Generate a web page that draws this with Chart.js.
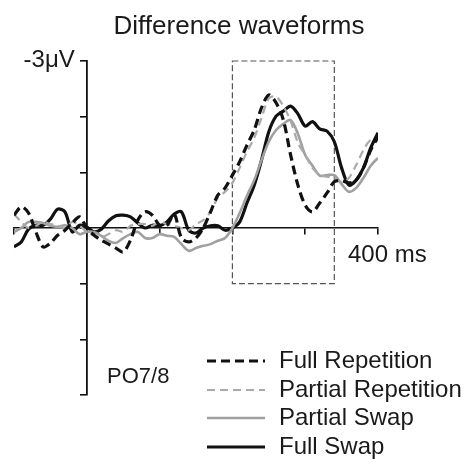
<!DOCTYPE html>
<html>
<head>
<meta charset="utf-8">
<script src="https://cdn.jsdelivr.net/npm/chart.js@4.4.0/dist/chart.umd.min.js"></script>
<style>
  html, body { margin: 0; padding: 0; background: #fff; }
</style>
</head>
<body>
<canvas id="erp" width="470" height="459"></canvas>
<script>
'use strict';
// time points in ms, values in microvolts (negative plotted upwards)
const times = [
  -100, -90, -80, -70, -60, -50, -40, -30, -20, -10,
  0, 10, 20, 30, 40, 50, 60, 70, 80, 90,
  100, 110, 120, 130, 140, 150, 160, 170, 180, 190,
  200, 210, 220, 230, 240, 250, 260, 270, 280, 290,
  300, 310, 320, 330, 340, 350, 360, 370, 380, 390, 400,
];
const fullRepetition = [
  -0.23, -0.38, -0.27, 0.07, 0.34, 0.27, 0.13, 0.04, -0.09, -0.20,
  0.00, 0.13, 0.22, 0.29, 0.36, 0.43, 0.22, -0.14, -0.29, -0.23,
  -0.05, -0.05, -0.25, 0.18, 0.25, 0.18, 0.00, -0.29, -0.59, -0.72,
  -0.95, -1.19, -1.49, -1.76, -2.16, -2.39, -2.25, -1.94, -1.31, -0.77,
  -0.41, -0.29, -0.45, -0.63, -0.83, -0.85, -0.81, -0.86, -1.08, -1.40, -1.64,
];
const partialRepetition = [
  -0.25, -0.11, 0.00, -0.04, -0.11, -0.07, -0.04, 0.00, -0.11, -0.04,
  0.07, 0.14, 0.16, 0.11, 0.04, 0.07, -0.04, -0.07, -0.07, -0.04,
  -0.11, -0.07, -0.04, 0.00, 0.04, -0.07, -0.14, -0.29, -0.54, -0.65,
  -0.81, -1.08, -1.37, -1.62, -1.98, -2.33, -2.36, -2.19, -1.92, -1.53,
  -1.31, -1.08, -0.95, -0.92, -0.90, -0.83, -0.90, -1.13, -1.40, -1.58, -1.56,
];
const partialSwap = [
  0.07, 0.00, -0.11, -0.11, -0.09, -0.04, -0.02, -0.05, 0.00, 0.11,
  0.07, 0.07, 0.14, 0.23, 0.27, 0.18, 0.11, 0.07, 0.18, 0.18,
  0.11, 0.14, 0.16, 0.29, 0.41, 0.36, 0.32, 0.29, 0.23, 0.18,
  0.00, -0.27, -0.58, -0.86, -1.22, -1.55, -1.76, -1.87, -1.94, -1.69,
  -1.31, -1.12, -0.94, -0.95, -0.95, -0.79, -0.65, -0.72, -0.90, -1.12, -1.26,
];
const fullSwap = [
  0.34, 0.25, 0.02, -0.05, -0.05, -0.16, -0.34, -0.29, 0.07, -0.05,
  -0.02, 0.07, 0.02, -0.13, -0.22, -0.23, -0.20, -0.09, 0.00, -0.05,
  -0.04, -0.11, -0.25, -0.29, 0.04, 0.09, 0.00, -0.04, -0.04, 0.04,
  0.00, -0.11, -0.45, -0.77, -1.22, -1.73, -2.01, -2.10, -2.19, -2.05,
  -1.83, -1.91, -1.78, -1.74, -1.55, -1.08, -0.77, -0.86, -1.08, -1.44, -1.71,
];
const seriesLabels = ['Full Repetition', 'Partial Repetition', 'Partial Swap', 'Full Swap'];
// analysis window (ms) and its voltage span
const windowTimes = [200, 340];
const windowVolts = [-3, 1];

const FONT = '"Liberation Sans", Arial, Helvetica, sans-serif';
const toPoints = (vals) => times.map((t, i) => ({x: t, y: vals[i]}));

// dashed analysis window, drawn under the waveforms
const windowBox = {
  id: 'windowBox',
  beforeDatasetsDraw(chart) {
    const {ctx, scales: {x, y}} = chart;
    const x1 = x.getPixelForValue(windowTimes[0]);
    const x2 = x.getPixelForValue(windowTimes[1]);
    const y1 = y.getPixelForValue(windowVolts[0]);
    const y2 = y.getPixelForValue(windowVolts[1]);
    ctx.save();
    ctx.strokeStyle = '#555';
    ctx.lineWidth = 1.2;
    ctx.setLineDash([6, 3]);
    ctx.strokeRect(x1, y1, x2 - x1, y2 - y1);
    ctx.restore();
  },
};

// title, axis labels and the legend at the bottom right
const labels = {
  id: 'labels',
  afterDraw(chart) {
    const {ctx, scales: {x, y}} = chart;
    ctx.save();
    ctx.fillStyle = '#1a1a1a';
    ctx.font = `26px ${FONT}`;
    ctx.textAlign = 'center';
    ctx.fillText('Difference waveforms', 239, 34);

    ctx.font = `24px ${FONT}`;
    ctx.textAlign = 'right';
    ctx.fillText('-3\u03bcV', x.getPixelForValue(0) - 12, y.getPixelForValue(-3) + 6);
    ctx.textAlign = 'left';
    ctx.fillText('400 ms', x.getPixelForValue(400) - 30, y.getPixelForValue(0) + 34);
    ctx.font = `22px ${FONT}`;
    ctx.fillText('PO7/8', 107, 383);

    const rowY = [361, 390, 418, 447];
    ctx.font = `24px ${FONT}`;
    chart.data.datasets.forEach((ds, i) => {
      ctx.strokeStyle = ds.borderColor;
      ctx.lineWidth = ds.borderWidth;
      ctx.setLineDash(ds.borderDash || []);
      ctx.beginPath();
      ctx.moveTo(207, rowY[i]);
      ctx.lineTo(265, rowY[i]);
      ctx.stroke();
      ctx.fillText(ds.label, 279, rowY[i] + 7);
    });
    ctx.restore();
  },
};

const axisStyle = {
  drawOnChartArea: false,
  drawTicks: true,
  tickLength: 6,
  color: '#111',
  lineWidth: 1.6,
};

const ctx = document.getElementById('erp');
const erpChart = new Chart(ctx, {
  type: 'line',
  data: {
    datasets: [
      {
        label: seriesLabels[0],
        data: toPoints(fullRepetition),
        borderColor: '#111',
        borderWidth: 3.2,
        borderDash: [9, 5],
      },
      {
        label: seriesLabels[1],
        data: toPoints(partialRepetition),
        borderColor: '#aaa',
        borderWidth: 2.2,
        borderDash: [8, 5],
      },
      {
        label: seriesLabels[2],
        data: toPoints(partialSwap),
        borderColor: '#a0a0a0',
        borderWidth: 2.6,
      },
      {
        label: seriesLabels[3],
        data: toPoints(fullSwap),
        borderColor: '#111',
        borderWidth: 3.2,
      },
    ],
  },
  options: {
    responsive: false,
    animation: false,
    devicePixelRatio: 1,
    layout: {padding: {left: 14, right: 92, top: 61, bottom: 64}},
    elements: {
      point: {radius: 0},
      line: {tension: 0.3, fill: false},
    },
    plugins: {
      legend: {display: false},
      tooltip: {enabled: false},
      title: {display: false},
    },
    scales: {
      x: {
        type: 'linear',
        min: -100,
        max: 400,
        position: {y: 0},
        ticks: {display: false, stepSize: 100},
        grid: axisStyle,
        border: {color: '#111', width: 1.6},
        afterFit: (s) => { s.height = 0; },
      },
      y: {
        type: 'linear',
        min: -3,
        max: 3,
        reverse: true,
        position: {x: 0},
        ticks: {display: false, stepSize: 1},
        grid: axisStyle,
        border: {color: '#111', width: 1.8},
        afterFit: (s) => { s.width = 0; },
      },
    },
  },
  plugins: [windowBox, labels],
});
</script>
</body>
</html>
